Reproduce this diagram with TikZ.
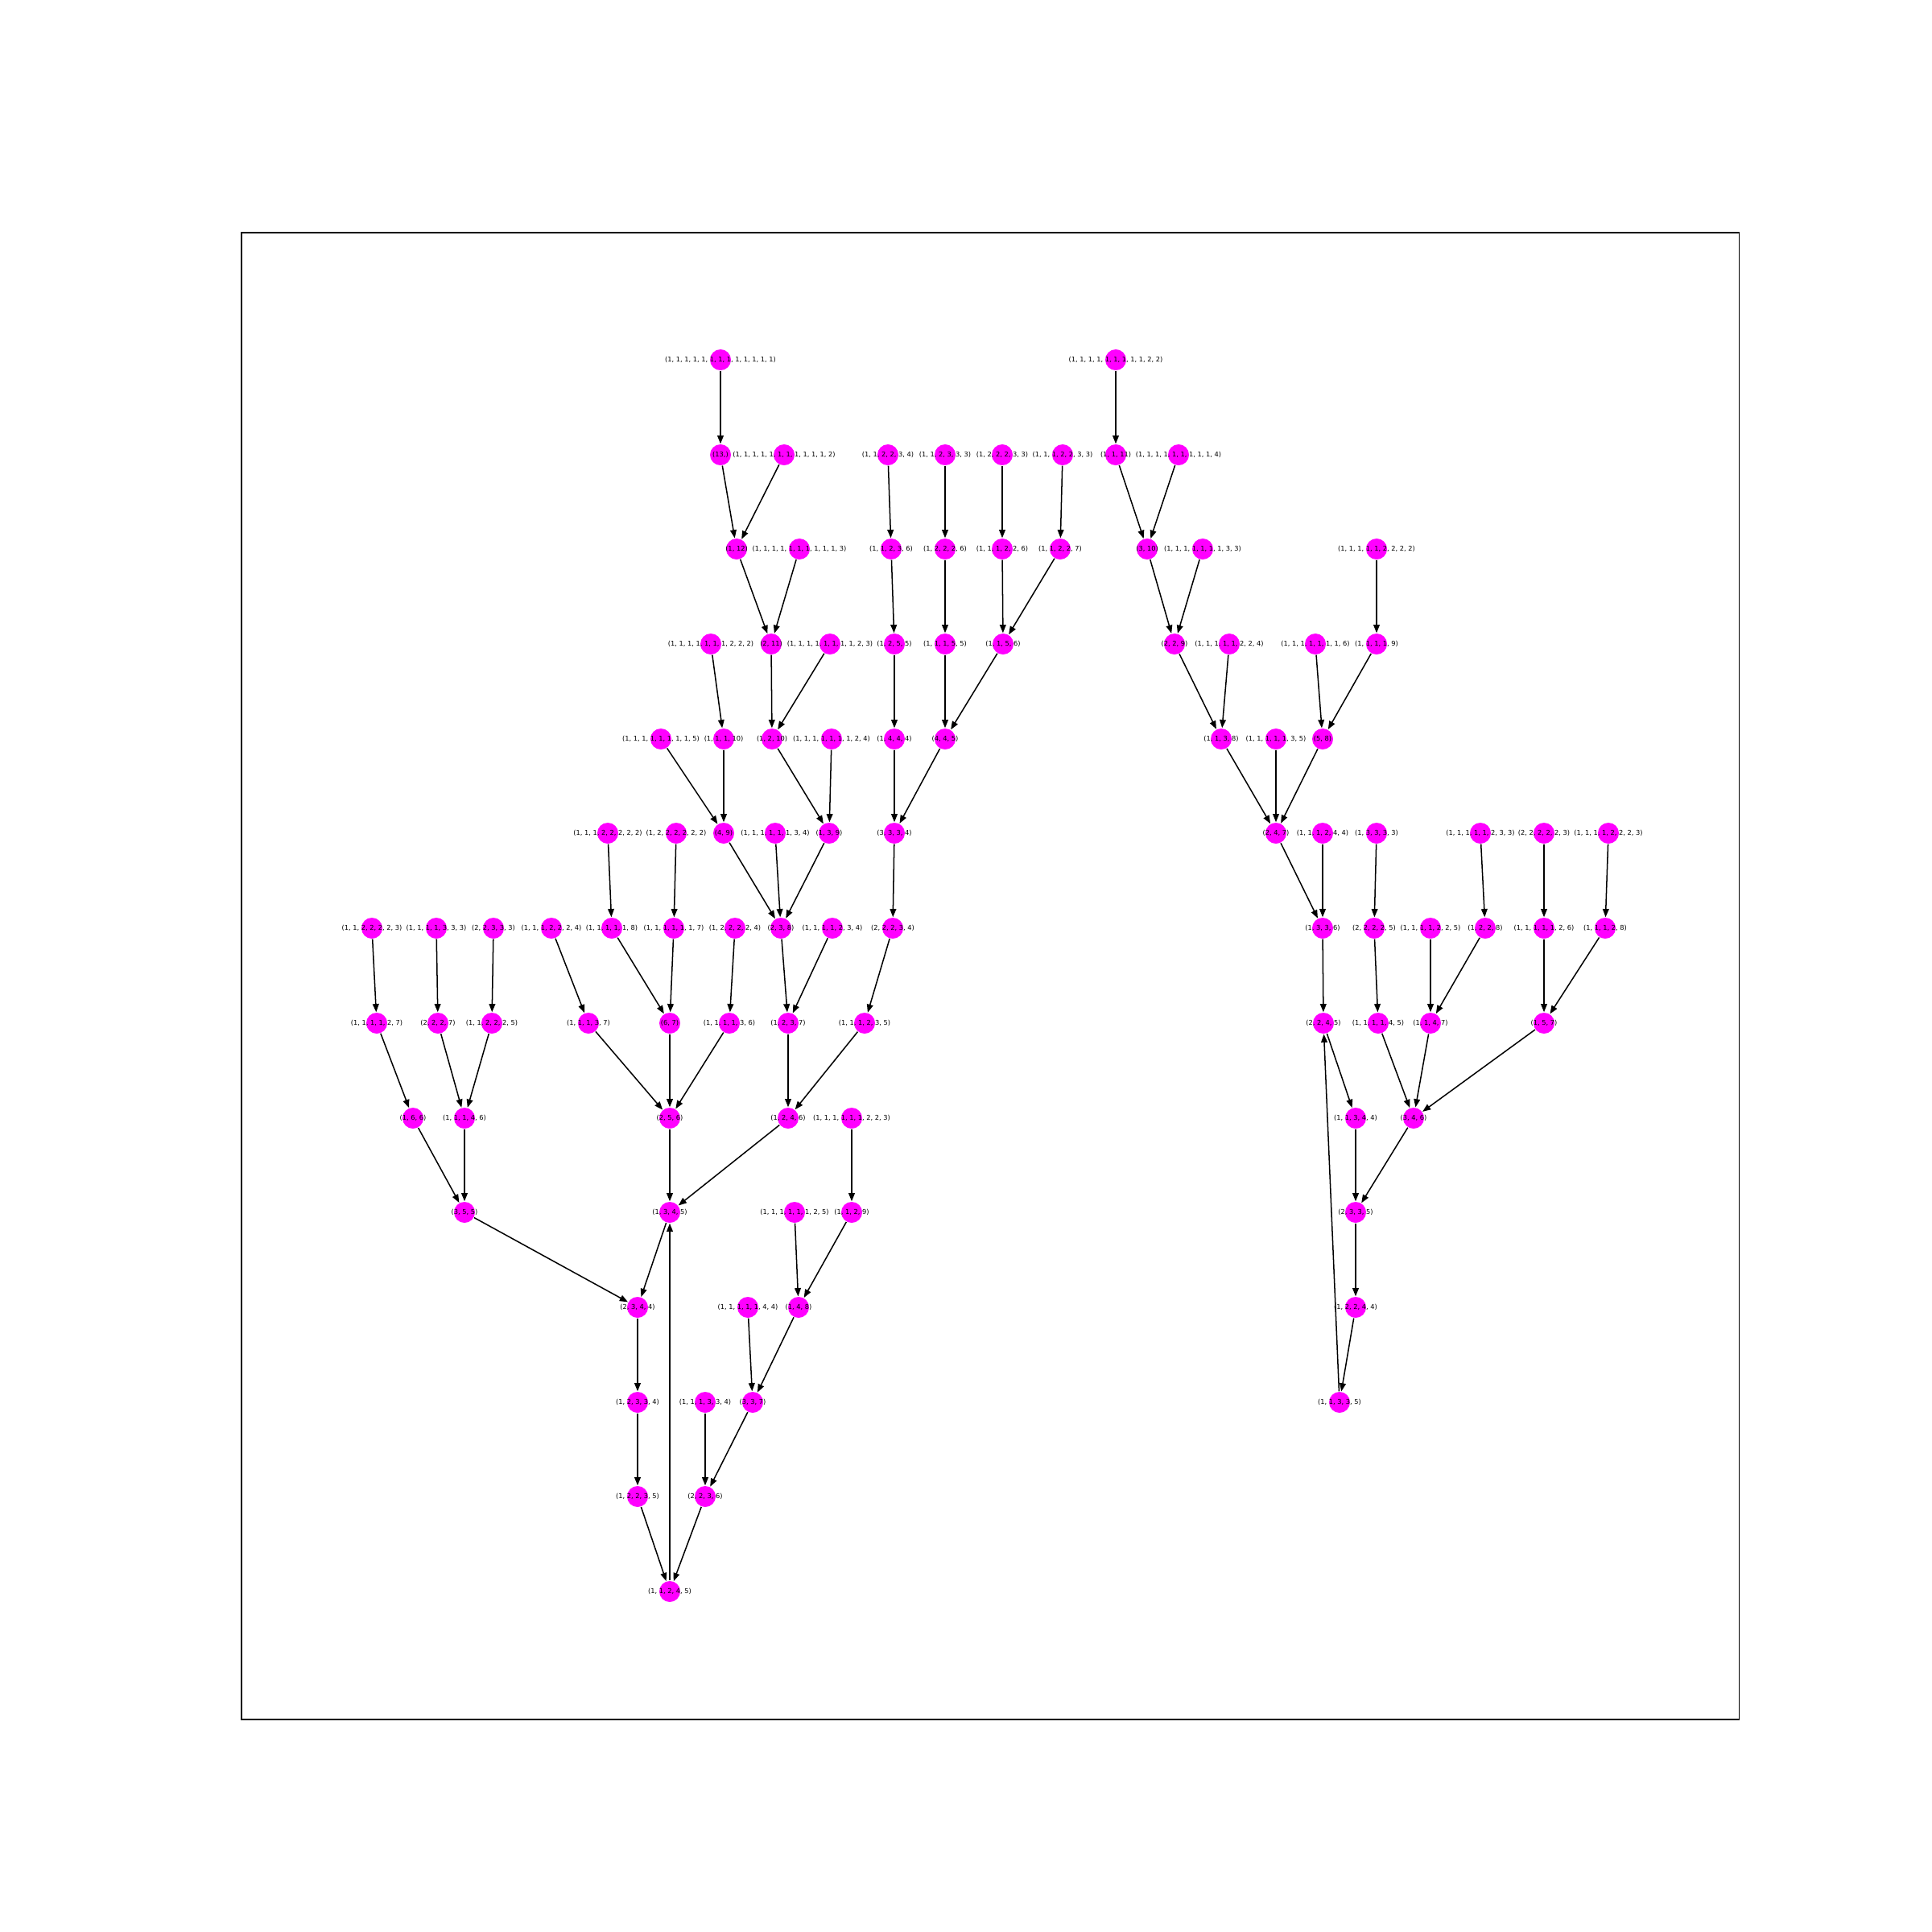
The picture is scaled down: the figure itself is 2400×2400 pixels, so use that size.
\documentclass[tikz,border=0pt]{standalone}
\usepackage{fontspec}
\setmainfont{DejaVu Sans}
\usetikzlibrary{arrows.meta}
\definecolor{nodemag}{RGB}{255,0,255}
\begin{document}
\begin{tikzpicture}[x=0.01cm,y=-0.01cm,
  pt/.style={circle,fill=nodemag,draw=none,inner sep=0pt,minimum size=0.26cm},
  tag/.style={font=\fontsize{2.35pt}{2.8pt}\selectfont,inner sep=0pt},
  edge/.style={line width=0.43pt,-{Triangle[length=2.9pt,width=2.2pt]}}]
\useasboundingbox (0,0) rectangle (2400,2400);
\draw[line width=0.3pt] (300,289) rectangle (2160,2136);
% partitions of 13, one row at a time
\foreach \n/\x/\lab in {A1/895/{(1, 1, 1, 1, 1, 1, 1, 1, 1, 1, 1, 1, 1)},A2/1386/{(1, 1, 1, 1, 1, 1, 1, 1, 1, 2, 2)}}
  \node[pt,label={[tag]center:\lab}] (\n) at (\x,447) {};
\foreach \n/\x/\lab in {B1/895/{(13,)},B2/974/{(1, 1, 1, 1, 1, 1, 1, 1, 1, 1, 1, 2)},B3/1103/{(1, 1, 2, 2, 3, 4)},B4/1174/{(1, 1, 2, 3, 3, 3)},B5/1245/{(1, 2, 2, 2, 3, 3)},B6/1320/{(1, 1, 1, 2, 2, 3, 3)},B7/1386/{(1, 1, 11)},B8/1464/{(1, 1, 1, 1, 1, 1, 1, 1, 1, 4)}}
  \node[pt,label={[tag]center:\lab}] (\n) at (\x,565) {};
\foreach \n/\x/\lab in {C1/915/{(1, 12)},C2/993/{(1, 1, 1, 1, 1, 1, 1, 1, 1, 1, 3)},C3/1107/{(1, 1, 2, 3, 6)},C4/1174/{(1, 2, 2, 2, 6)},C5/1245/{(1, 1, 1, 2, 2, 6)},C6/1317/{(1, 1, 2, 2, 7)},C7/1425/{(3, 10)},C8/1494/{(1, 1, 1, 1, 1, 1, 1, 3, 3)},C9/1710/{(1, 1, 1, 1, 1, 2, 2, 2, 2)}}
  \node[pt,label={[tag]center:\lab}] (\n) at (\x,682) {};
\foreach \n/\x/\lab in {D1/883/{(1, 1, 1, 1, 1, 1, 1, 2, 2, 2)},D2/958/{(2, 11)},D3/1031/{(1, 1, 1, 1, 1, 1, 1, 1, 2, 3)},D4/1111/{(1, 2, 5, 5)},D5/1174/{(1, 1, 1, 5, 5)},D6/1246/{(1, 1, 5, 6)},D7/1459/{(2, 2, 9)},D8/1527/{(1, 1, 1, 1, 1, 2, 2, 4)},D9/1634/{(1, 1, 1, 1, 1, 1, 1, 6)},D10/1710/{(1, 1, 1, 1, 9)}}
  \node[pt,label={[tag]center:\lab}] (\n) at (\x,800) {};
\foreach \n/\x/\lab in {E1/821/{(1, 1, 1, 1, 1, 1, 1, 1, 5)},E2/899/{(1, 1, 1, 10)},E3/959/{(1, 2, 10)},E4/1033/{(1, 1, 1, 1, 1, 1, 1, 2, 4)},E5/1111/{(1, 4, 4, 4)},E6/1174/{(4, 4, 5)},E7/1517/{(1, 1, 3, 8)},E8/1585/{(1, 1, 1, 1, 1, 3, 5)},E9/1643/{(5, 8)}}
  \node[pt,label={[tag]center:\lab}] (\n) at (\x,918) {};
\foreach \n/\x/\lab in {F1/755/{(1, 1, 1, 2, 2, 2, 2, 2)},F2/840/{(1, 2, 2, 2, 2, 2, 2)},F3/899/{(4, 9)},F4/963/{(1, 1, 1, 1, 1, 1, 3, 4)},F5/1030/{(1, 3, 9)},F6/1111/{(3, 3, 3, 4)},F7/1585/{(2, 4, 7)},F8/1643/{(1, 1, 1, 2, 4, 4)},F9/1710/{(1, 3, 3, 3, 3)},F10/1839/{(1, 1, 1, 1, 1, 2, 3, 3)},F11/1918/{(2, 2, 2, 2, 2, 3)},F12/1998/{(1, 1, 1, 1, 2, 2, 2, 3)}}
  \node[pt,label={[tag]center:\lab}] (\n) at (\x,1035) {};
\foreach \n/\x/\lab in {G1/462/{(1, 1, 2, 2, 2, 2, 3)},G2/542/{(1, 1, 1, 1, 3, 3, 3)},G3/613/{(2, 2, 3, 3, 3)},G4/685/{(1, 1, 1, 2, 2, 2, 4)},G5/760/{(1, 1, 1, 1, 1, 8)},G6/837/{(1, 1, 1, 1, 1, 1, 7)},G7/913/{(1, 2, 2, 2, 2, 4)},G8/970/{(2, 3, 8)},G9/1034/{(1, 1, 1, 1, 2, 3, 4)},G10/1109/{(2, 2, 2, 3, 4)},G11/1643/{(1, 3, 3, 6)},G12/1707/{(2, 2, 2, 2, 5)},G13/1777/{(1, 1, 1, 1, 2, 2, 5)},G14/1845/{(1, 2, 2, 8)},G15/1918/{(1, 1, 1, 1, 1, 2, 6)},G16/1994/{(1, 1, 1, 2, 8)}}
  \node[pt,label={[tag]center:\lab}] (\n) at (\x,1153) {};
\foreach \n/\x/\lab in {H1/468/{(1, 1, 1, 1, 2, 7)},H2/544/{(2, 2, 2, 7)},H3/611/{(1, 1, 2, 2, 2, 5)},H4/731/{(1, 1, 1, 3, 7)},H5/832/{(6, 7)},H6/906/{(1, 1, 1, 1, 3, 6)},H7/979/{(1, 2, 3, 7)},H8/1074/{(1, 1, 1, 2, 3, 5)},H9/1644/{(2, 2, 4, 5)},H10/1712/{(1, 1, 1, 1, 4, 5)},H11/1777/{(1, 1, 4, 7)},H12/1918/{(1, 5, 7)}}
  \node[pt,label={[tag]center:\lab}] (\n) at (\x,1271) {};
\foreach \n/\x/\lab in {I1/513/{(1, 6, 6)},I2/577/{(1, 1, 1, 4, 6)},I3/832/{(2, 5, 6)},I4/979/{(1, 2, 4, 6)},I5/1058/{(1, 1, 1, 1, 1, 1, 2, 2, 3)},I6/1684/{(1, 1, 3, 4, 4)},I7/1756/{(3, 4, 6)}}
  \node[pt,label={[tag]center:\lab}] (\n) at (\x,1389) {};
\foreach \n/\x/\lab in {J1/577/{(3, 5, 5)},J2/832/{(1, 3, 4, 5)},J3/987/{(1, 1, 1, 1, 1, 1, 2, 5)},J4/1058/{(1, 1, 2, 9)},J5/1684/{(2, 3, 3, 5)}}
  \node[pt,label={[tag]center:\lab}] (\n) at (\x,1506) {};
\foreach \n/\x/\lab in {K1/792/{(2, 3, 4, 4)},K2/929/{(1, 1, 1, 1, 1, 4, 4)},K3/992/{(1, 4, 8)},K4/1684/{(1, 2, 2, 4, 4)}}
  \node[pt,label={[tag]center:\lab}] (\n) at (\x,1624) {};
\foreach \n/\x/\lab in {L1/792/{(1, 2, 3, 3, 4)},L2/876/{(1, 1, 1, 3, 3, 4)},L3/935/{(3, 3, 7)},L4/1664/{(1, 1, 3, 3, 5)}}
  \node[pt,label={[tag]center:\lab}] (\n) at (\x,1742) {};
\foreach \n/\x/\lab in {M1/792/{(1, 2, 2, 3, 5)},M2/876/{(2, 2, 3, 6)}}
  \node[pt,label={[tag]center:\lab}] (\n) at (\x,1859) {};
\node[pt,label={[tag]center:{(1, 1, 2, 4, 5)}}] (N1) at (832,1977) {};
% left tree
\foreach \a/\b in {A1/B1,B1/C1,B2/C1,C1/D2,C2/D2,D2/E3,D3/E3,D1/E2,E2/F3,E1/F3,E3/F5,E4/F5,F3/G8,F4/G8,F5/G8,
  B3/C3,B4/C4,B5/C5,B6/C6,C3/D4,C4/D5,C5/D6,C6/D6,D4/E5,D5/E6,D6/E6,E5/F6,E6/F6,F6/G10,F1/G5,F2/G6,
  G1/H1,G2/H2,G3/H3,G4/H4,G5/H5,G6/H5,G7/H6,G8/H7,G9/H7,G10/H8,
  H1/I1,H2/I2,H3/I2,H4/I3,H5/I3,H6/I3,H7/I4,H8/I4,
  I1/J1,I2/J1,I3/J2,I4/J2,I5/J4,J1/K1,J2/K1,J3/K3,J4/K3,
  K1/L1,K2/L3,K3/L3,L1/M1,L2/M2,L3/M2,M1/N1,M2/N1,N1/J2}
  \draw[edge] (\a) -- (\b);
% right tree
\foreach \a/\b in {A2/B7,B7/C7,B8/C7,C7/D7,C8/D7,D7/E7,D8/E7,C9/D10,D9/E9,D10/E9,E7/F7,E8/F7,E9/F7,
  F7/G11,F8/G11,F9/G12,F10/G14,F11/G15,F12/G16,G11/H9,G12/H10,G13/H11,G14/H11,G15/H12,G16/H12,
  H9/I6,H10/I7,H11/I7,H12/I7,I6/J5,I7/J5,J5/K4,K4/L4,L4/H9}
  \draw[edge] (\a) -- (\b);
\end{tikzpicture}
\end{document}
